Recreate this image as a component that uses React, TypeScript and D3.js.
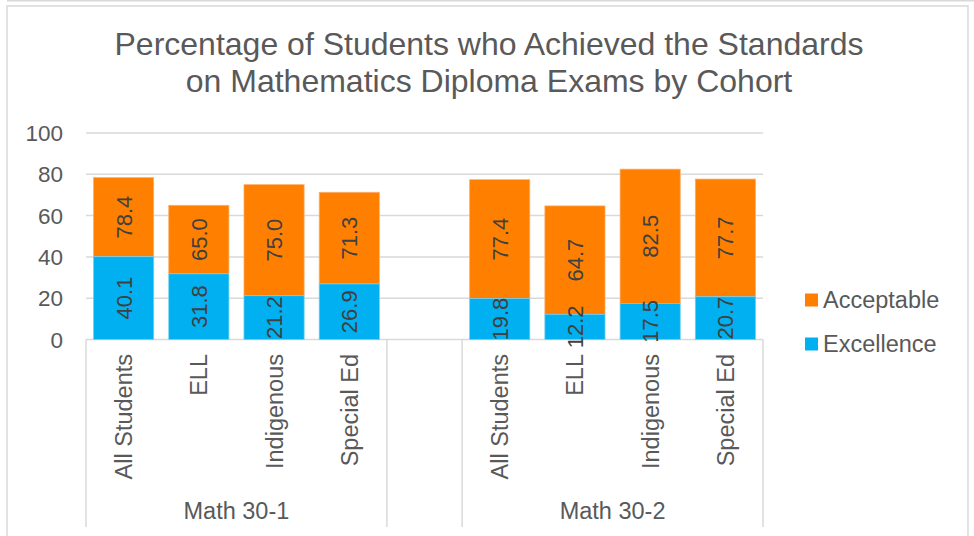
import React from "react";
import * as d3 from "d3";

const title = [
  "Percentage of Students who Achieved the Standards",
  "on Mathematics Diploma Exams by Cohort",
];
const groups = ["Math 30-1", "Math 30-2"];
const cohorts = ["All Students", "ELL", "Indigenous", "Special Ed"];
const acceptable = [78.4, 65.0, 75.0, 71.3, 77.4, 64.7, 82.5, 77.7];
const excellence = [40.1, 31.8, 21.2, 26.9, 19.8, 12.2, 17.5, 20.7];
const yTicks = [0, 20, 40, 60, 80, 100];
const seriesNames = ["Acceptable", "Excellence"];

const W = 974;
const H = 536;
const FONT = "'Liberation Sans', Arial, sans-serif";
const ORANGE = "#FF8000";
const BLUE = "#00B0F0";
const GRID = "#d9d9d9";
const TEXT = "#595959";

type Row = { key: string; group: string; cohort: string; acc: number; exc: number };

const rows: Row[] = [];
groups.forEach((g, gi) => {
  cohorts.forEach((c, ci) => {
    const i = gi * cohorts.length + ci;
    rows.push({ key: g + "|" + c, group: g, cohort: c, acc: acceptable[i], exc: excellence[i] });
  });
});

const domain: string[] = [];
groups.forEach((g, gi) => {
  if (gi > 0) domain.push("gap" + gi);
  cohorts.forEach((c) => domain.push(g + "|" + c));
});

export default function App() {
  const x = d3.scaleBand<string>().domain(domain).range([86, 763]).paddingInner(0.2).paddingOuter(0.1);
  const y = d3.scaleLinear().domain([0, 100]).range([339.5, 133]);
  const step = x.step();
  const slotStart = (k: string) => (x(k) as number) - (step * 0.2) / 2;
  const bw = x.bandwidth();

  const groupSpans = groups.map((g) => {
    const first = g + "|" + cohorts[0];
    const last = g + "|" + cohorts[cohorts.length - 1];
    return { g, x0: slotStart(first), x1: slotStart(last) + step };
  });

  return (
    <div style={{ position: "absolute", left: 0, top: 0 }}>
      <svg width={W} height={H} style={{ display: "block", fontFamily: FONT }}>
        <rect x={0} y={0} width={W} height={H} fill="#fff" />
        <line x1={7} x2={W} y1={0.75} y2={0.75} stroke={GRID} strokeWidth={1.5} />
        <rect x={7} y={6} width={961} height={H} fill="#fff" stroke={GRID} strokeWidth={1.5} />

        {title.map((t, i) => (
          <text key={i} x={489} y={55 + i * 37} textAnchor="middle" fontSize={32} fill={TEXT}>
            {t}
          </text>
        ))}

        {yTicks.map((t) => (
          <g key={t}>
            <line x1={86} x2={763} y1={y(t)} y2={y(t)} stroke={GRID} strokeWidth={1.5} />
            <text x={63} y={y(t)} dy="0.36em" textAnchor="end" fontSize={22.5} fill={TEXT}>
              {t}
            </text>
          </g>
        ))}

        {groupSpans.map((s) => (
          <g key={s.g}>
            <line x1={s.x0} x2={s.x0} y1={y(0)} y2={527} stroke={GRID} strokeWidth={1.5} />
            <line x1={s.x1} x2={s.x1} y1={y(0)} y2={527} stroke={GRID} strokeWidth={1.5} />
            <text x={(s.x0 + s.x1) / 2} y={519} textAnchor="middle" fontSize={23.5} fill={TEXT}>
              {s.g}
            </text>
          </g>
        ))}

        {rows.map((r) => {
          const bx = x(r.key) as number;
          return (
            <g key={r.key}>
              <rect x={bx} y={y(r.acc)} width={bw} height={y(r.exc) - y(r.acc)} fill={ORANGE} stroke="#ffb070" strokeWidth={0.75} />
              <rect x={bx} y={y(r.exc)} width={bw} height={y(0) - y(r.exc)} fill={BLUE} stroke="#70d0f0" strokeWidth={0.75} />
            </g>
          );
        })}

        {rows.map((r) => {
          const cx = (x(r.key) as number) + bw / 2;
          const yAcc = y((r.acc + r.exc) / 2);
          const yExc = y(r.exc / 2);
          return (
            <g key={r.key + "-lab"} fontSize={22} fill="#404040">
              <text transform={`translate(${cx},${yAcc}) rotate(-90)`} textAnchor="middle" dy="0.36em">
                {r.acc.toFixed(1)}
              </text>
              <text transform={`translate(${cx},${yExc}) rotate(-90)`} textAnchor="middle" dy="0.36em">
                {r.exc.toFixed(1)}
              </text>
            </g>
          );
        })}

        {rows.map((r) => {
          const cx = (x(r.key) as number) + bw / 2;
          return (
            <text key={r.key + "-cat"} transform={`translate(${cx},354) rotate(-90)`} textAnchor="end" dy="0.36em" fontSize={23.5} fill={TEXT}>
              {r.cohort}
            </text>
          );
        })}

        {seriesNames.map((s, i) => (
          <g key={s}>
            <rect x={805} y={293.5 + i * 44} width={13} height={13} fill={i === 0 ? ORANGE : BLUE} />
            <text x={823} y={300 + i * 44} dy="0.36em" fontSize={23.5} fill={TEXT}>
              {s}
            </text>
          </g>
        ))}
      </svg>
    </div>
  );
}
